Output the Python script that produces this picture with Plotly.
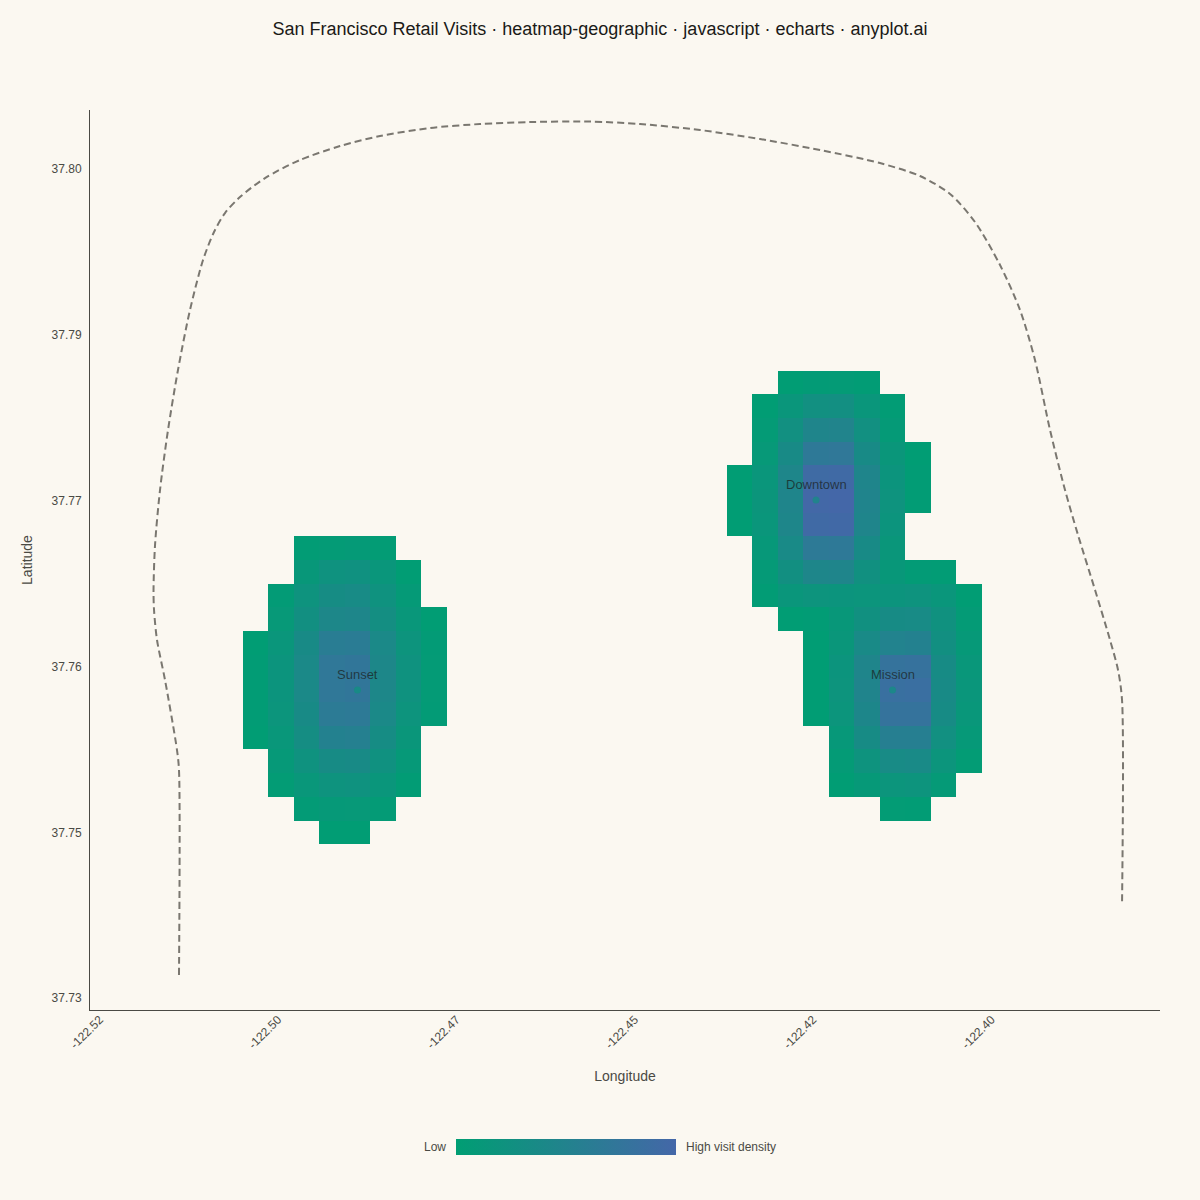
import plotly.graph_objects as go

# grid of the density cells
lon_start = -122.52
lon_step = 0.025 / 7
lat_start = 37.73
lat_step = 0.0146 / 7
n_cols = 42
n_rows = 38

x_tick_labels = ['-122.52', '-122.50', '-122.47', '-122.45', '-122.42', '-122.40']
y_tick_labels = ['37.73', '37.75', '37.76', '37.77', '37.79', '37.80']

# visit density, top row first
# Sunset block: columns 6-13, rows 18-30 counted from the top
sunset_density = [
    [None, None, .03, .06, .07, .04, None, None],
    [None, None, .12, .22, .24, .15, .02, None],
    [None, .05, .20, .33, .35, .22, .07, None],
    [None, .10, .27, .42, .44, .29, .13, .02],
    [.02, .15, .36, .60, .62, .39, .19, .05],
    [.03, .18, .39, .70, .72, .42, .22, .06],
    [.03, .18, .39, .70, .72, .42, .22, .06],
    [.03, .17, .36, .64, .66, .39, .19, .05],
    [.02, .13, .31, .52, .54, .33, .14, None],
    [None, .09, .22, .34, .36, .24, .09, None],
    [None, .04, .13, .20, .22, .15, .03, None],
    [None, None, .05, .09, .10, .06, None, None],
    [None, None, None, .01, .02, None, None, None],
]

# Downtown and Mission blocks: columns 25-34, rows 11-29 counted from the top
east_density = [
    [None, None, .02, .05, .06, .03, None, None, None, None],
    [None, .02, .15, .26, .28, .15, .03, None, None, None],
    [None, .06, .26, .46, .48, .26, .08, None, None, None],
    [None, .10, .36, .68, .70, .36, .14, .02, None, None],
    [.01, .15, .44, .92, .94, .45, .18, .03, None, None],
    [.02, .16, .46, .98, 1.0, .47, .20, .03, None, None],
    [.02, .15, .44, .94, .96, .45, .18, None, None, None],
    [None, .11, .37, .66, .68, .36, .14, None, None, None],
    [None, .07, .27, .44, .45, .25, .12, .05, .03, None],
    [None, .03, .15, .19, .18, .17, .18, .20, .15, .02],
    [None, None, .01, .03, .12, .25, .34, .35, .23, .06],
    [None, None, None, .01, .14, .37, .50, .52, .27, .09],
    [None, None, None, .02, .18, .46, .78, .80, .34, .13],
    [None, None, None, .02, .19, .47, .84, .86, .36, .15],
    [None, None, None, .01, .17, .43, .78, .78, .34, .13],
    [None, None, None, None, .11, .34, .56, .56, .26, .09],
    [None, None, None, None, .06, .20, .35, .37, .17, .04],
    [None, None, None, None, .01, .09, .17, .19, .08, None],
    [None, None, None, None, None, None, .04, .03, None, None],
]

coast_lon = [
    -122.50931, -122.50931, -122.50959, -122.51127, -122.51239, -122.51281, -122.51288,
    -122.51267, -122.51197, -122.51085, -122.50945, -122.50777, -122.50594, -122.5044,
    -122.50286, -122.50076, -122.49725, -122.49235, -122.48674, -122.48113, -122.47412,
    -122.46711, -122.4601, -122.45169, -122.44468, -122.43627, -122.42786, -122.41945,
    -122.41104, -122.40543, -122.40122, -122.39772, -122.39421, -122.39141, -122.38931,
    -122.3872, -122.3851, -122.38328, -122.38089, -122.37879, -122.37767, -122.37711,
    -122.37711,
]
coast_lat = [
    37.73204, 37.75009, 37.75185, 37.75802, 37.76154, 37.76418, 37.76594,
    37.7699, 37.77475, 37.78003, 37.78532, 37.7906, 37.795, 37.79747,
    37.79914, 37.80055, 37.80222, 37.80381, 37.80504, 37.80592, 37.80663,
    37.80698, 37.80715, 37.8072, 37.80698, 37.80645, 37.80566, 37.80469,
    37.80354, 37.8024, 37.80082, 37.79835, 37.79456, 37.7906, 37.7862,
    37.78003, 37.77475, 37.77079, 37.76594, 37.76154, 37.7589, 37.75626,
    37.7382,
]

hotspot_names = ['Sunset', 'Downtown', 'Mission']
hotspot_lon = [-122.48429, -122.42001, -122.40928]
hotspot_lat = [37.75714, 37.77387, 37.75714]

# put the blocks on the full grid, bottom row first for plotly
z = [[None] * n_cols for _ in range(n_rows)]
for i, row in enumerate(sunset_density):
    for j, v in enumerate(row):
        z[n_rows - 1 - (18 + i)][6 + j] = v
for i, row in enumerate(east_density):
    for j, v in enumerate(row):
        z[n_rows - 1 - (11 + i)][25 + j] = v

lons = [lon_start + i * lon_step for i in range(n_cols)]
lats = [lat_start + i * lat_step for i in range(n_rows)]

fig = go.Figure()

fig.add_trace(go.Heatmap(
    x=lons,
    y=lats,
    z=z,
    zmin=0,
    zmax=1,
    colorscale=[[0, '#009E73'], [1, '#4467A8']],
    hoverongaps=False,
    colorbar=dict(
        orientation='h',
        thickness=16,
        thicknessmode='pixels',
        len=220,
        lenmode='pixels',
        xpad=0,
        x=0.4449,
        xanchor='center',
        xref='paper',
        y=-0.1522,
        yanchor='middle',
        yref='paper',
        outlinewidth=0,
        ticks='',
        showticklabels=False,
    ),
))

fig.add_trace(go.Scatter(
    x=coast_lon,
    y=coast_lat,
    mode='lines',
    line=dict(color='#7A7770', width=2, dash='7px,4px', shape='spline', smoothing=0.8),
    hoverinfo='skip',
    showlegend=False,
))

fig.add_trace(go.Scatter(
    x=hotspot_lon,
    y=hotspot_lat,
    mode='markers',
    text=hotspot_names,
    marker=dict(color='rgba(0,158,115,0.5)', size=7),
    showlegend=False,
))

fig.update_layout(
    width=1200,
    height=1200,
    margin=dict(l=90, r=40, t=110, b=190),
    paper_bgcolor='#FBF8F1',
    plot_bgcolor='#FBF8F1',
    font=dict(family='Liberation Sans', color='#4A4A44', size=13),
    title=dict(
        text='San Francisco Retail Visits · heatmap-geographic · javascript · echarts · anyplot.ai',
        x=0.5,
        xanchor='center',
        y=0.9758,
        yanchor='middle',
        font=dict(size=18, color='#1A1A17'),
    ),
    annotations=[
        dict(text='Low', xref='paper', yref='paper', x=0.3346, y=-0.1522,
             xanchor='right', yanchor='middle', showarrow=False, font=dict(size=12)),
        dict(text='High visit density', xref='paper', yref='paper', x=0.5551, y=-0.1522,
             xanchor='left', yanchor='middle', showarrow=False, font=dict(size=12)),
    ],
)

# hotspot names sit a fixed distance above their dots
for name, lon, lat in zip(hotspot_names, hotspot_lon, hotspot_lat):
    fig.add_annotation(
        x=lon,
        y=lat,
        text=name,
        yshift=15,
        showarrow=False,
        font=dict(size=13, color='rgba(26,26,23,0.7)'),
    )

fig.update_xaxes(
    range=[lon_start - lon_step / 2, lon_start + (n_cols - 0.5) * lon_step],
    tickvals=[lon_start + 7 * i * lon_step for i in range(6)],
    ticktext=x_tick_labels,
    tickangle=-45,
    tickfont=dict(size=12),
    ticklabelstandoff=-3,
    ticklabelshift=-3,
    ticks='',
    showgrid=False,
    zeroline=False,
    showline=True,
    linecolor='#4A4A44',
    linewidth=1,
    title=dict(text='Longitude', font=dict(size=14), standoff=20),
)
fig.update_yaxes(
    range=[lat_start - lat_step / 2, lat_start + (n_rows - 0.5) * lat_step],
    tickvals=[lat_start + 7 * i * lat_step for i in range(6)],
    ticktext=y_tick_labels,
    tickfont=dict(size=12),
    ticklabelstandoff=5,
    ticks='',
    showgrid=False,
    zeroline=False,
    showline=True,
    linecolor='#4A4A44',
    linewidth=1,
    title=dict(text='Latitude', font=dict(size=14), standoff=15),
)

fig.write_html(
    "out.html",
    config={'displayModeBar': False},
    post_script="document.body.style.margin='0';",
)
